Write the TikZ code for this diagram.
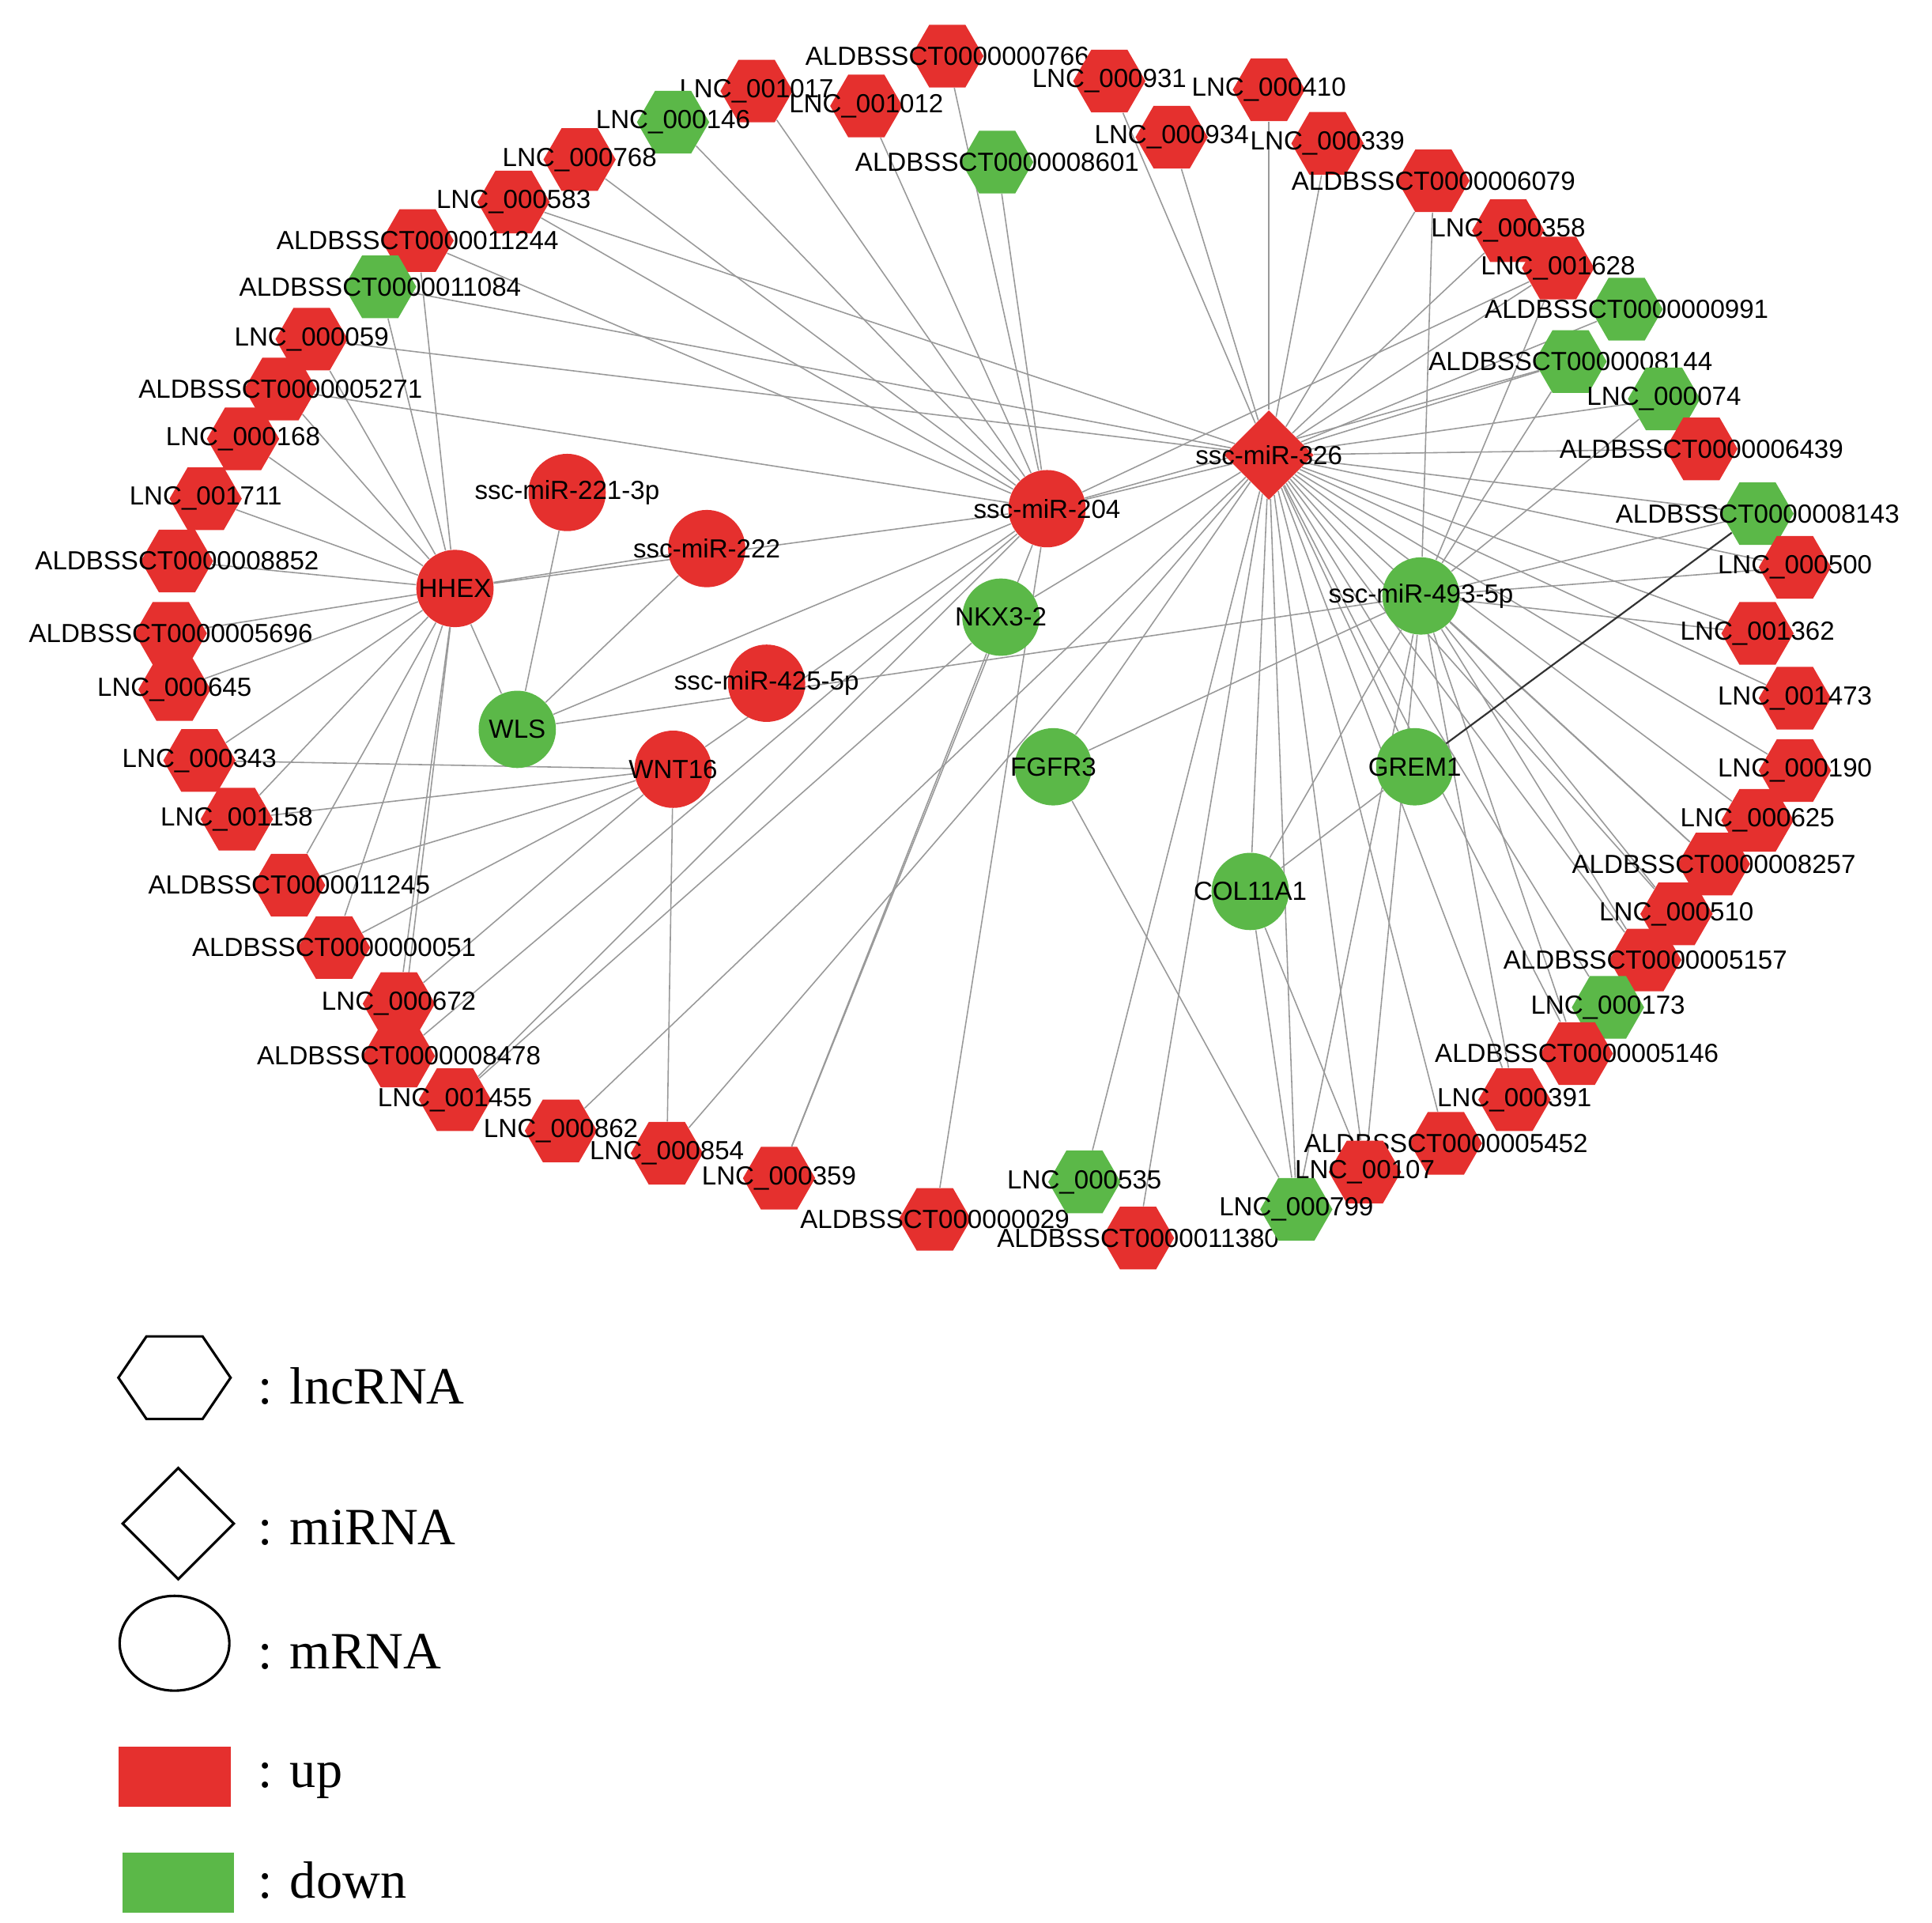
\documentclass[tikz,border=0pt]{standalone}
\usepackage{fontspec}
\setmainfont{Liberation Sans}
\newfontfamily\tms{Liberation Serif}
\usetikzlibrary{shapes.geometric,backgrounds}
\definecolor{up}{HTML}{E5302E}
\definecolor{dn}{HTML}{5BB848}
\begin{document}
\begin{tikzpicture}[x=0.5pt,y=-0.5pt,
 hex/.style={regular polygon,regular polygon sides=6,minimum size=29pt,inner sep=0pt,draw=none},
 mr/.style={circle,minimum size=31pt,inner sep=0pt,draw=none},
 lab/.style={font=\fontsize{10.5}{11}\selectfont,inner sep=0pt},
 ed/.style={draw=gray!80,line width=0.5pt},
 lg/.style={font=\tms\fontsize{21}{22}\selectfont,anchor=west}]
\useasboundingbox (0,0) rectangle (1550,1542);
\foreach \n/\x/\y/\c/\t in {
l1/760/45/up/ALDBSSCT0000000766, l2/607/73/up/LNC\_001017, l3/695/85/up/LNC\_001012,
l4/890/65/up/LNC\_000931, l5/1018/72/up/LNC\_000410, l6/540/98/dn/LNC\_000146,
l7/940/110/up/LNC\_000934, l8/1065/115/up/LNC\_000339, l9/800/130/dn/ALDBSSCT0000008601,
l10/465/128/up/LNC\_000768, l11/1150/145/up/ALDBSSCT0000006079, l12/412/162/up/LNC\_000583,
l13/335/193/up/ALDBSSCT0000011244, l14/1210/185/up/LNC\_000358, l15/1250/215/up/LNC\_001628,
l16/305/230/dn/ALDBSSCT0000011084, l17/1305/248/dn/ALDBSSCT0000000991, l18/250/272/up/LNC\_000059,
l19/1260/290/dn/ALDBSSCT0000008144, l20/225/312/up/ALDBSSCT0000005271, l21/1335/320/dn/LNC\_000074,
l22/195/352/up/LNC\_000168, l23/1365/360/up/ALDBSSCT0000006439, l24/165/400/up/LNC\_001711,
l25/1410/412/dn/ALDBSSCT0000008143, l26/142/450/up/ALDBSSCT0000008852, l27/1440/455/up/LNC\_000500,
l28/137/508/up/ALDBSSCT0000005696, l29/1410/508/up/LNC\_001362, l30/140/553/up/LNC\_000645,
l31/1440/560/up/LNC\_001473, l32/160/610/up/LNC\_000343, l33/1440/618/up/LNC\_000190,
l34/190/657/up/LNC\_001158, l35/1410/658/up/LNC\_000625, l36/232/710/up/ALDBSSCT0000011245,
l37/1375/693/up/ALDBSSCT0000008257, l38/268/760/up/ALDBSSCT0000000051, l39/1345/733/up/LNC\_000510,
l40/320/805/up/LNC\_000672, l41/1320/770/up/ALDBSSCT0000005157, l42/320/847/up/ALDBSSCT0000008478,
l43/1290/808/dn/LNC\_000173, l44/365/882/up/LNC\_001455, l45/1265/845/up/ALDBSSCT0000005146,
l46/450/907/up/LNC\_000862, l47/1215/882/up/LNC\_000391, l48/535/925/up/LNC\_000854,
l49/1160/917/up/ALDBSSCT0000005452, l50/625/945/up/LNC\_000359, l51/1095/940/up/LNC\_00107,
l52/750/978/up/ALDBSSCT000000029, l53/870/948/dn/LNC\_000535, l54/913/993/up/ALDBSSCT0000011380,
l55/1040/970/dn/LNC\_000799}
{\node[hex,fill=\c,label={[lab]center:\t}] (\n) at (\x,\y) {};}
\node[diamond,fill=up,minimum size=36pt,inner sep=0pt,label={[lab]center:ssc-miR-326}] (m326) at (1018,365) {};
\foreach \n/\x/\y/\c/\t in {
m204/840/408/up/ssc-miR-204, m493/1140/478/dn/ssc-miR-493-5p, hhex/365/472/up/HHEX,
wls/415/585/dn/WLS, wnt/540/617/up/WNT16, m221/455/395/up/ssc-miR-221-3p,
m222/567/440/up/ssc-miR-222, m425/615/548/up/ssc-miR-425-5p, nkx/803/495/dn/NKX3-2,
fgf/845/615/dn/FGFR3, grem/1135/615/dn/GREM1, col/1003/715/dn/COL11A1}
{\node[mr,fill=\c,label={[lab]center:\t}] (\n) at (\x,\y) {};}
\begin{scope}[on background layer]
\foreach \a/\b in {
m326/l4,m326/l5,m326/l7,m326/l8,m326/l11,m326/l14,m326/l15,m326/l17,m326/l19,m326/l21,m326/l23,
m326/l25,m326/l27,m326/l29,m326/l31,m326/l33,m326/l35,m326/l37,m326/l39,m326/l41,m326/l43,m326/l45,
m326/l47,m326/l49,m326/l51,m326/l55,m326/l54,m326/l53,m326/l16,m326/l18,m326/l12,m326/fgf,m326/col,
m326/grem,m326/nkx,m326/l46,m326/l48,
m204/l1,m204/l2,m204/l3,m204/l6,m204/l9,m204/l10,m204/l12,m204/l13,m204/l20,m204/hhex,m204/wls,
m204/wnt,m204/l42,m204/l44,m204/l50,m204/l52,m204/l15,m204/l19,m204/m326,
m493/l11,m493/l15,m493/l19,m493/l21,m493/l25,m493/l27,m493/l29,m493/l37,m493/l39,m493/l41,
m493/l51,m493/l55,m493/col,m493/fgf,m493/wls,m493/l47,m493/l45,
hhex/l13,hhex/l16,hhex/l18,hhex/l20,hhex/l22,hhex/l24,hhex/l26,hhex/l28,hhex/l30,hhex/l32,
hhex/l34,hhex/l36,hhex/l38,hhex/l40,hhex/l42,hhex/m222,hhex/wls,
wls/m221,wls/m222,
wnt/l32,wnt/l34,wnt/l36,wnt/l38,wnt/l40,wnt/l48,
fgf/l55,grem/col,col/l55,col/l51,nkx/l50,nkx/l44}
{\draw[ed] (\a) -- (\b);}
\draw[black!80,line width=0.7pt] (grem) -- (l25);
\end{scope}
% legend
\node[regular polygon,regular polygon sides=6,draw,line width=1pt,minimum size=45pt,inner sep=0pt,yscale=0.85] (k1) at (140,1105) {};
\node[lg] (t1) at (200,1112) {: lncRNA};
\node[diamond,draw,line width=1pt,minimum size=45pt,inner sep=0pt] (k2) at (143,1222) {};
\node[lg] (t2) at (200,1225) {: miRNA};
\node[ellipse,draw,line width=1pt,minimum width=44pt,minimum height=38pt,inner sep=0pt] (k3) at (140,1318) {};
\node[lg] (t3) at (200,1325) {: mRNA};
\node[fill=up,minimum width=45pt,minimum height=24pt,inner sep=0pt] (k4) at (140,1425) {};
\node[lg] (t4) at (200,1428) {: up};
\node[fill=dn,minimum width=45pt,minimum height=24pt,inner sep=0pt] (k5) at (143,1510) {};
\node[lg] (t5) at (200,1508) {: down};
\end{tikzpicture}
\end{document}
